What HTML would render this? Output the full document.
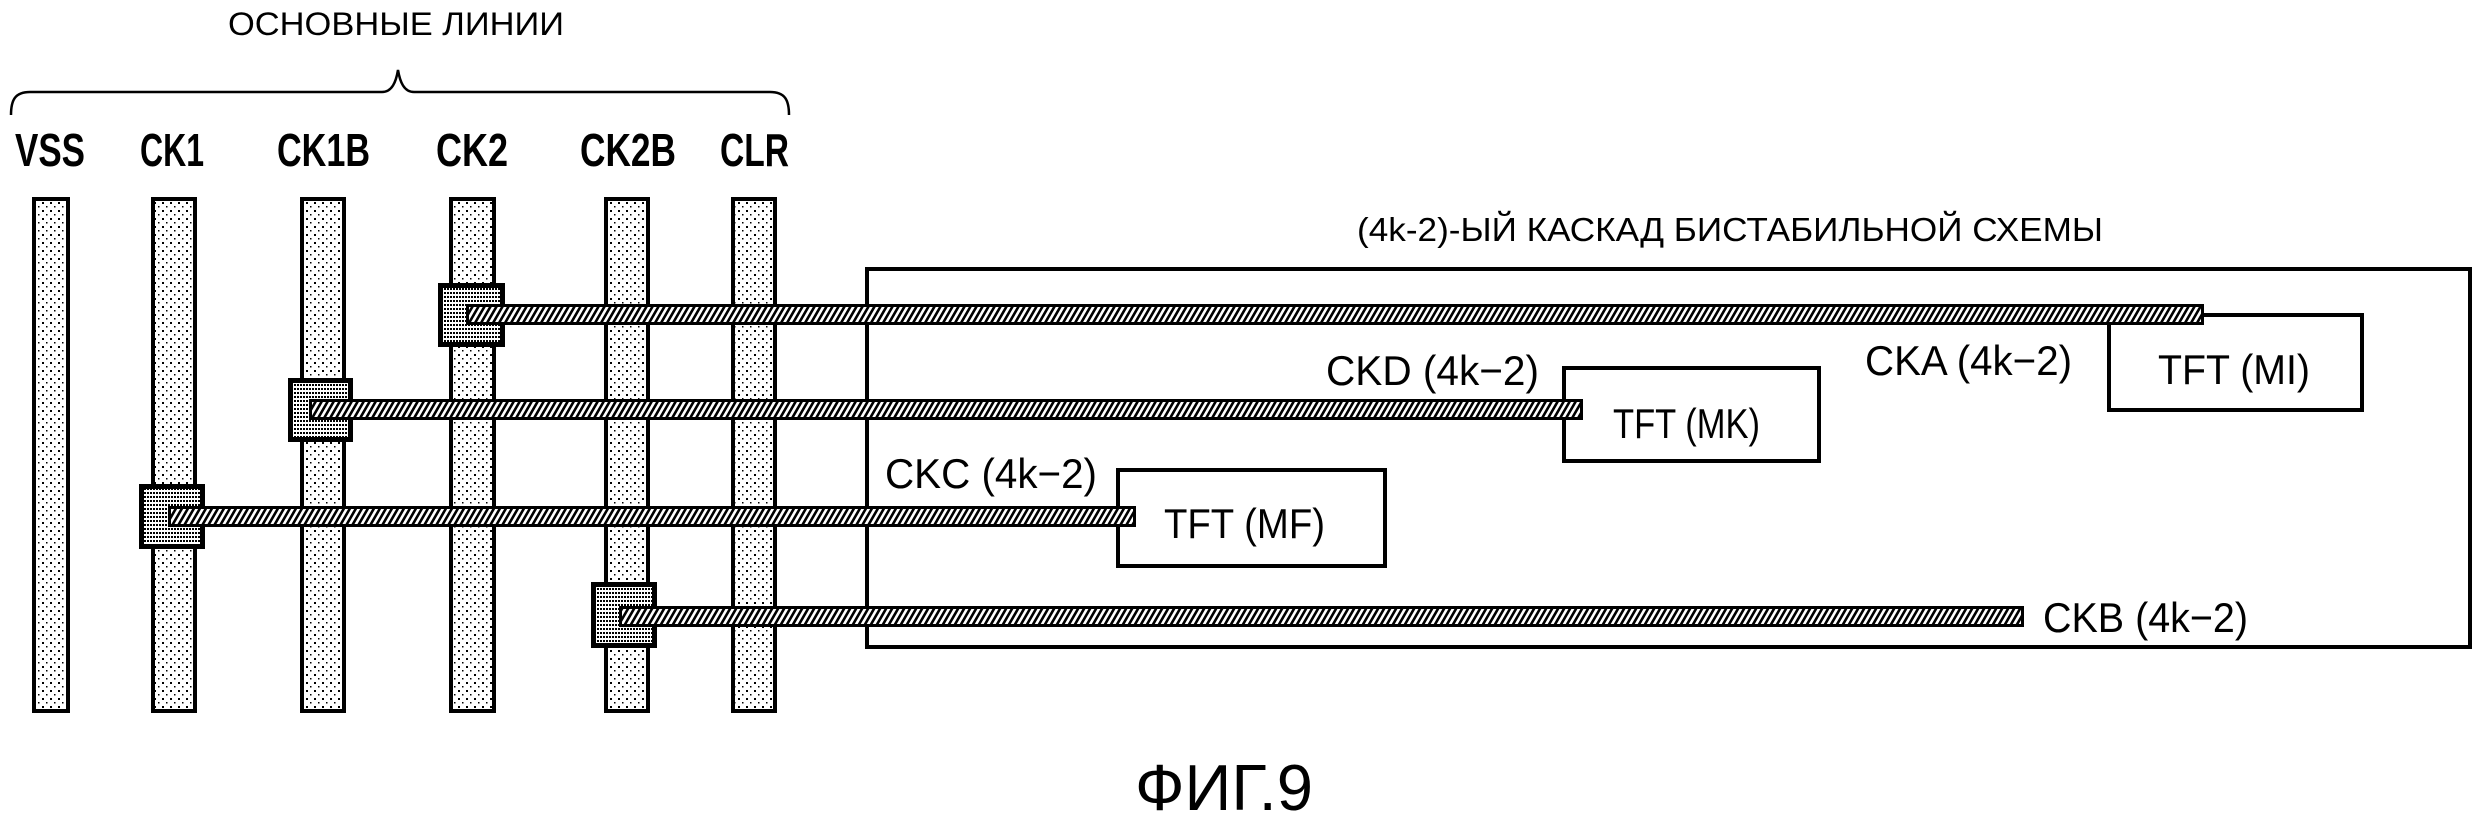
<!DOCTYPE html>
<html><head><meta charset="utf-8"><style>
html,body{margin:0;padding:0;background:#fff;}
svg{display:block;}
text{font-family:"Liberation Sans",sans-serif;fill:#000;}
</style></head><body>
<svg width="2487" height="822" viewBox="0 0 2487 822" xmlns="http://www.w3.org/2000/svg">
<defs>
<pattern id="bar" x="0" y="0" width="8" height="8" patternUnits="userSpaceOnUse">
<rect width="8" height="8" fill="#fff"/>
<rect x="2" y="2" width="2" height="2" fill="#000"/>
<rect x="6" y="6" width="1.5" height="1.5" fill="#000"/>
</pattern>
<pattern id="pad" x="0" y="0" width="3" height="4" patternUnits="userSpaceOnUse">
<rect width="3" height="4" fill="#fff"/>
<rect x="0" y="0" width="2" height="2" fill="#000"/>
</pattern>
<pattern id="hatch" x="0" y="0" width="6" height="40" patternUnits="userSpaceOnUse" patternTransform="skewX(-30)">
<rect width="6" height="40" fill="#fff"/>
<rect x="0" y="0" width="3" height="40" fill="#000"/>
</pattern>
</defs>

<!-- title & brace -->
<text x="228" y="35" font-size="32" textLength="336" lengthAdjust="spacingAndGlyphs">ОСНОВНЫЕ ЛИНИИ</text>
<path d="M11,115 C11,100 15,92 30,92 L382,92 C392,92 396,82 398,70 C400,82 404,92 414,92 L770,92 C785,92 789,100 789,115" fill="none" stroke="#000" stroke-width="2.5"/>

<!-- bus labels -->
<g font-size="46" font-weight="bold">
<text x="15" y="166" textLength="70" lengthAdjust="spacingAndGlyphs">VSS</text>
<text x="140" y="166" textLength="64" lengthAdjust="spacingAndGlyphs">CK1</text>
<text x="277" y="166" textLength="93" lengthAdjust="spacingAndGlyphs">CK1B</text>
<text x="436" y="166" textLength="72" lengthAdjust="spacingAndGlyphs">CK2</text>
<text x="580" y="166" textLength="96" lengthAdjust="spacingAndGlyphs">CK2B</text>
<text x="720" y="166" textLength="69" lengthAdjust="spacingAndGlyphs">CLR</text>
</g>

<!-- vertical bus bars -->
<g fill="url(#bar)" stroke="#000" stroke-width="4">
<rect x="34" y="199" width="34" height="512"/>
<rect x="153" y="199" width="42" height="512"/>
<rect x="302" y="199" width="42" height="512"/>
<rect x="451" y="199" width="43" height="512"/>
<rect x="606" y="199" width="42" height="512"/>
<rect x="733" y="199" width="42" height="512"/>
</g>

<!-- stage box -->
<text x="1357" y="241" font-size="33" textLength="746" lengthAdjust="spacingAndGlyphs">(4k-2)-ЫЙ КАСКАД БИСТАБИЛЬНОЙ СХЕМЫ</text>
<rect x="867" y="269" width="1603" height="378" fill="none" stroke="#000" stroke-width="4"/>

<!-- TFT boxes -->
<g fill="#fff" stroke="#000" stroke-width="4">
<rect x="2109" y="315" width="253" height="95"/>
<rect x="1564" y="368" width="255" height="93"/>
<rect x="1118" y="470" width="267" height="96"/>
</g>

<!-- contact pads -->
<g fill="url(#pad)" stroke="#000" stroke-width="5">
<rect x="440.5" y="285.5" width="62" height="59"/>
<rect x="290.5" y="380.5" width="60" height="59"/>
<rect x="141.5" y="486.5" width="61" height="60"/>
<rect x="593.5" y="584.5" width="61" height="61"/>
</g>

<!-- hatched lines -->
<g fill="url(#hatch)" stroke="#000" stroke-width="3">
<rect x="467.5" y="305.5" width="1735" height="18"/>
<rect x="310.5" y="400.5" width="1271" height="18"/>
<rect x="169.5" y="507.5" width="965" height="18"/>
<rect x="620.5" y="607.5" width="1402" height="18"/>
</g>

<!-- signal labels -->
<g font-size="42">
<text x="1865" y="375" textLength="207" lengthAdjust="spacingAndGlyphs">CKA (4k−2)</text>
<text x="1326" y="385" textLength="213" lengthAdjust="spacingAndGlyphs">CKD (4k−2)</text>
<text x="885" y="488" textLength="212" lengthAdjust="spacingAndGlyphs">CKC (4k−2)</text>
<text x="2043" y="632" textLength="205" lengthAdjust="spacingAndGlyphs">CKB (4k−2)</text>
<text x="2158" y="384" textLength="152" lengthAdjust="spacingAndGlyphs">TFT (MI)</text>
<text x="1613" y="438" textLength="147" lengthAdjust="spacingAndGlyphs">TFT (MK)</text>
<text x="1164" y="538" textLength="161" lengthAdjust="spacingAndGlyphs">TFT (MF)</text>
</g>

<text x="1135" y="810" font-size="65" textLength="178" lengthAdjust="spacingAndGlyphs">ФИГ.9</text>
</svg>
</body></html>
